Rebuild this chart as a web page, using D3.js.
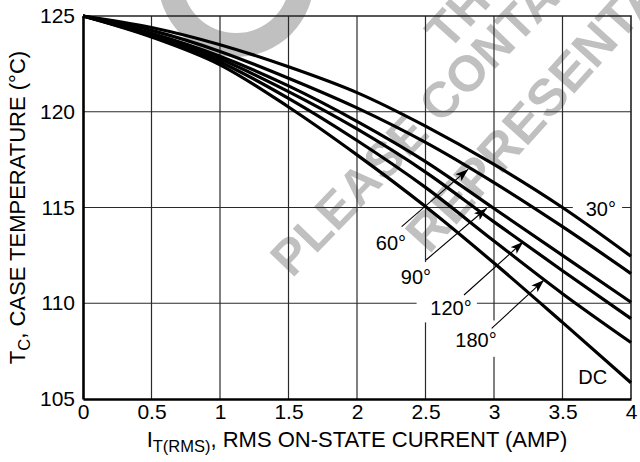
<!DOCTYPE html>
<html>
<head>
<meta charset="utf-8">
<script src="https://cdn.jsdelivr.net/npm/d3@7"></script>
<style>
  body { margin: 0; background: #fff; }
  svg { display: block; font-family: "Liberation Sans", Arial, sans-serif; }
</style>
</head>
<body>
<svg width="640" height="462"></svg>
<script>
// current steps (AMP)
var currents = [0, 0.5, 1, 1.5, 2, 2.5, 3, 3.5, 4];

// case temperature at the current steps
var deg30  = [125, 124.4, 123.5, 122.35, 121.0, 119.25, 117.25, 115.0, 112.45];
var deg60  = [125, 124.25, 123.15, 121.75, 120.2, 118.4, 116.3, 114.0, 111.55];
var deg90  = [125, 124.1, 122.9, 121.35, 119.5, 117.4, 114.95, 112.5, 110.05];
var deg120 = [125, 124.0, 122.75, 121.05, 119.1, 116.85, 114.25, 111.7, 109.2];
var deg180 = [125, 123.95, 122.6, 120.7, 118.5, 116.05, 113.25, 110.5, 107.95];
var dc     = [125, 123.9, 122.45, 120.25, 117.75, 115.05, 112.1, 109.0, 105.85];

var xTicks = [0, 0.5, 1, 1.5, 2, 2.5, 3, 3.5, 4];
var yTicks = [105, 110, 115, 120, 125];

var series = [deg30, deg60, deg90, deg120, deg180, dc];

var svg = d3.select("svg"),
    plotL = 83, plotR = 631, plotT = 16, plotB = 399;

var x = d3.scaleLinear().domain([0, 4]).range([plotL, plotR]);
var y = d3.scaleLinear().domain([105, 125]).range([plotB, plotT]);

// watermark, sits behind everything
var wm = svg.append("g").attr("fill", "#c0c0c0").attr("font-weight", "bold")
    .attr("font-size", 50);
wm.append("path")
    .attr("d", d3.arc().innerRadius(54).outerRadius(78).startAngle(0).endAngle(2 * Math.PI))
    .attr("transform", "translate(236,-21)");
wm.append("text").attr("transform", "translate(448,52) rotate(-48)").text("THIS DEVICE");
wm.append("text").attr("transform", "translate(292,279) rotate(-46)").text("PLEASE CONTACT");
wm.append("text").attr("transform", "translate(429,255) rotate(-48)").attr("font-size", 52)
    .text("REPRESENTATIVE");

// grid
var grid = svg.append("g").attr("stroke", "#2a2a2a").attr("stroke-width", 1.2);
grid.selectAll(".vx").data(xTicks.slice(1, -1)).enter().append("line")
    .attr("x1", function(d) { return x(d); })
    .attr("x2", function(d) { return x(d); })
    .attr("y1", y(125)).attr("y2", y(105));
grid.selectAll(".hy").data(yTicks.slice(1, -1)).enter().append("line")
    .attr("x1", x(0)).attr("x2", x(4))
    .attr("y1", function(d) { return y(d); })
    .attr("y2", function(d) { return y(d); });

// white gaps where labels cut the grid
var gaps = [
  [3.575, 3.935, 115.5, 114.45],
  [2.47, 2.53, 112.15, 109.0],
  [2.435, 2.875, 110.5, 109.5],
  [2.97, 3.03, 109.1, 107.2]
];
svg.append("g").selectAll("rect").data(gaps).enter().append("rect")
    .attr("fill", "#fff")
    .attr("x", function(d) { return x(d[0]); })
    .attr("width", function(d) { return x(d[1]) - x(d[0]); })
    .attr("y", function(d) { return y(d[2]); })
    .attr("height", function(d) { return y(d[3]) - y(d[2]); });

// frame top / right
svg.append("path")
    .attr("d", "M" + x(0) + "," + y(125) + "H" + x(4) + "V" + y(105))
    .attr("fill", "none").attr("stroke", "#222").attr("stroke-width", 1.6);

// curves
var line = d3.line()
    .x(function(d, i) { return x(currents[i]); })
    .y(function(d) { return y(d); })
    .curve(d3.curveMonotoneX);

svg.append("g").selectAll("path").data(series).enter().append("path")
    .attr("d", line)
    .attr("fill", "none")
    .attr("stroke", "#000")
    .attr("stroke-width", 3.2);

// annotations: label, label pos, leader from, leader to
var angleLabels = ["30°", "60°", "90°", "120°", "180°", "DC"];
var labelPos = [[3.78, 114.92], [2.248, 113.15], [2.43, 111.37], [2.686, 109.75], [2.869, 108.08], [3.72, 106.15]];
var leaders = [null, [[2.326, 114.0], [2.812, 117.0]], [[2.504, 112.26], [2.947, 114.96]],
  [[2.781, 110.43], [3.214, 113.21]], [[2.983, 108.69], [3.365, 111.21]], null];

svg.append("defs").append("marker")
    .attr("id", "arr").attr("viewBox", "0 0 13 9")
    .attr("refX", 13).attr("refY", 4.5)
    .attr("markerWidth", 13).attr("markerHeight", 9)
    .attr("markerUnits", "userSpaceOnUse")
    .attr("orient", "auto")
  .append("path").attr("d", "M0,0L13,4.5L0,9L3,4.5Z").attr("fill", "#000");

svg.append("g").selectAll("line").data(leaders.filter(function(d) { return d; }))
  .enter().append("line")
    .attr("x1", function(d) { return x(d[0][0]); })
    .attr("y1", function(d) { return y(d[0][1]); })
    .attr("x2", function(d) { return x(d[1][0]); })
    .attr("y2", function(d) { return y(d[1][1]); })
    .attr("stroke", "#000").attr("stroke-width", 1.1)
    .attr("marker-end", "url(#arr)");

svg.append("g").selectAll("text").data(angleLabels).enter().append("text")
    .attr("x", function(d, i) { return x(labelPos[i][0]); })
    .attr("y", function(d, i) { return y(labelPos[i][1]); })
    .attr("dy", "0.36em")
    .attr("text-anchor", "middle")
    .attr("font-size", 20)
    .text(function(d) { return d; });

// axes
var xAxis = svg.append("g").attr("transform", "translate(0," + plotB + ")")
    .call(d3.axisBottom(x).tickValues(xTicks).tickSize(0).tickPadding(5)
      .tickFormat(function(d) { return String(d); }));
var yAxis = svg.append("g").attr("transform", "translate(" + plotL + ",0)")
    .call(d3.axisLeft(y).tickValues(yTicks).tickSize(0).tickPadding(8));
[xAxis, yAxis].forEach(function(a) {
  a.select(".domain").attr("stroke", "#000").attr("stroke-width", 2.6);
  a.selectAll("text").attr("font-size", 21).attr("font-family", "Liberation Sans, Arial, sans-serif")
    .attr("fill", "#000");
});

// titles
var xt = svg.append("text").attr("x", (plotL + plotR) / 2).attr("y", 447)
    .attr("text-anchor", "middle").attr("font-size", 22);
xt.append("tspan").text("I");
xt.append("tspan").attr("font-size", 16.5).attr("dy", 5).text("T(RMS)");
xt.append("tspan").attr("dy", -5).text(", RMS ON-STATE CURRENT (AMP)");

var yt = svg.append("text")
    .attr("transform", "translate(25," + (plotT + plotB) / 2 + ") rotate(-90)")
    .attr("text-anchor", "middle").attr("font-size", 22);
yt.append("tspan").text("T");
yt.append("tspan").attr("font-size", 16.5).attr("dy", 5).text("C");
yt.append("tspan").attr("dy", -5).text(", CASE TEMPERATURE (°C)");
</script>
</body>
</html>
